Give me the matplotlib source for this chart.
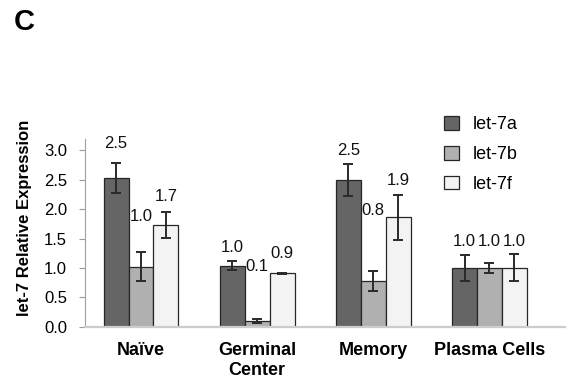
import numpy as np
import matplotlib
matplotlib.use("Agg")
import matplotlib.pyplot as plt
from matplotlib.patches import Patch

plt.rcParams['font.family'] = ['Liberation Sans', 'DejaVu Sans']

groups = ['Naïve', 'Germinal\nCenter', 'Memory', 'Plasma Cells']
series = ['let-7a', 'let-7b', 'let-7f']

let7a = [2.53, 1.04, 2.50, 1.00]
let7b = [1.02, 0.10, 0.77, 1.00]
let7f = [1.73, 0.91, 1.86, 1.00]

err_a = [0.25, 0.08, 0.27, 0.22]
err_b = [0.25, 0.03, 0.17, 0.09]
err_f = [0.22, 0.01, 0.38, 0.23]

# where each value label sits (hand placed, data units)
label_y_a = [3.12, 1.34, 3.00, 1.45]
label_y_b = [1.88, 1.02, 1.97, 1.45]
label_y_f = [2.21, 1.25, 2.49, 1.45]

colors = ['#656565', '#b0b0b0', '#f3f3f3']
edge = '#262626'


def main():
    W, H = 573, 381
    fig = plt.figure(figsize=(W / 100, H / 100), dpi=100)
    ax = fig.add_axes([85 / W, 1 - 326.7 / H, 480 / W, 187.4 / H])

    x = np.arange(len(groups))
    bw = 0.215
    values = [let7a, let7b, let7f]
    errs = [err_a, err_b, err_f]
    label_ys = [label_y_a, label_y_b, label_y_f]

    for i, (vals, err, ly) in enumerate(zip(values, errs, label_ys)):
        pos = x + (i - 1) * bw
        ax.bar(pos, vals, bw, color=colors[i], edgecolor=edge, linewidth=0.9,
               label=series[i], zorder=2)
        ax.errorbar(pos, vals, yerr=err, fmt='none', ecolor='#2a2a2a',
                    elinewidth=1.4, capsize=3.5, capthick=1.4, zorder=3)
        for p, v, y in zip(pos, vals, ly):
            ax.text(p, y, f'{v:.1f}', ha='center', va='center', fontsize=12,
                    color='#111111', clip_on=False)

    ax.set_xlim(-0.482, 3.65)
    ax.set_ylim(0, 3.19)
    ax.set_yticks(np.arange(0, 3.01, 0.5))
    ax.set_yticklabels([f'{t:.1f}' for t in np.arange(0, 3.01, 0.5)])
    ax.set_xticks(x)
    ax.set_xticklabels(groups, fontweight='bold', fontsize=13)

    ax.tick_params(axis='x', length=0, pad=11)
    ax.tick_params(axis='y', length=4, width=0.8, color='#9a9a9a', pad=9,
                   labelsize=12)

    for s in ['top', 'right']:
        ax.spines[s].set_visible(False)
    ax.spines['left'].set_color('#a0a0a0')
    ax.spines['left'].set_linewidth(0.8)
    ax.spines['bottom'].set_color('#cccccc')
    ax.spines['bottom'].set_linewidth(1.6)

    fig.text(25 / W, 1 - 218 / H, 'let-7 Relative Expression', rotation=90,
             ha='center', va='center', fontsize=12, fontweight='bold')
    fig.text(14 / W, 1 - 8 / H, 'C', ha='left', va='top', fontsize=21,
             fontweight='bold')

    handles = [Patch(facecolor=c, edgecolor=edge, linewidth=0.9) for c in colors]
    ax.legend(handles, series, loc='upper left',
              bbox_to_anchor=(444 / W, 1 - 116 / H),
              bbox_transform=fig.transFigure, frameon=False, fontsize=13,
              handlelength=0.83, handleheight=0.8, handletextpad=0.78,
              labelspacing=0.7, borderpad=0, borderaxespad=0)

    fig.savefig('out.png', dpi=100)


if __name__ == "__main__":
    main()
